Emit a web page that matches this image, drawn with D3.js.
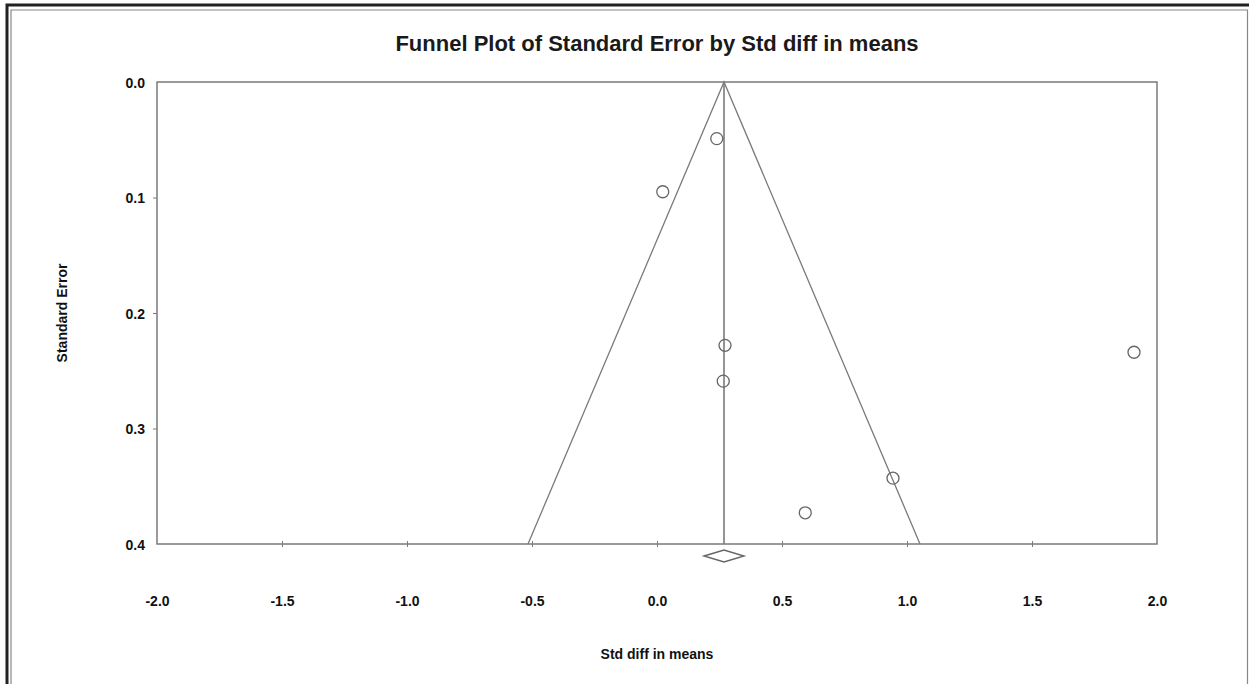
<!DOCTYPE html>
<html><head><meta charset="utf-8">
<script src="https://cdn.jsdelivr.net/npm/d3@7"></script>
<style>
html,body{margin:0;padding:0;background:#fff;}
svg{display:block;}
text{font-family:"Liberation Sans",Arial,sans-serif;fill:#111;}
</style></head>
<body>
<script>
// ---- data ----
const studyEffects = [0.239, 0.023, 0.272, 0.265, 0.593, 0.944, 1.908];
const studySE      = [0.049, 0.095, 0.228, 0.259, 0.373, 0.343, 0.234];
const pooledEffect = 0.268;
const pooledCI = [0.188, 0.348];
const xTicks = [-2.0, -1.5, -1.0, -0.5, 0.0, 0.5, 1.0, 1.5, 2.0];
const yTicks = [0.0, 0.1, 0.2, 0.3, 0.4];
const titleText = "Funnel Plot of Standard Error by Std diff in means";
const xLabel = "Std diff in means";
const yLabel = "Standard Error";

const W = 1249, H = 684;
const svg = d3.select("body").append("svg").attr("width", W).attr("height", H);

// outer frame
svg.append("rect").attr("x",7).attr("y",5).attr("width",W+10).attr("height",H+10)
  .attr("fill","none").attr("stroke","#222").attr("stroke-width",3);
svg.append("path").attr("d",`M11,${H+5} V10 H1247.5 V${H+5}`)
  .attr("fill","none").attr("stroke","#888").attr("stroke-width",1.2);

const x = d3.scaleLinear().domain([-2,2]).range([157,1157]);
const y = d3.scaleLinear().domain([0,0.4]).range([82,544]);
const grey = "#7a7a7a";
const fmt = d => d.toFixed(1);

// title
svg.append("text").attr("x",657).attr("y",51).attr("text-anchor","middle")
  .style("font-size","22px").style("font-weight","bold").style("fill","#1a1a1a")
  .text(titleText);

// plot box
const g = svg.append("g");
g.append("rect").attr("x",x(-2)).attr("y",y(0)).attr("width",x(2)-x(-2)).attr("height",y(0.4)-y(0))
  .attr("fill","none").attr("stroke",grey).attr("stroke-width",1.5);

// y axis ticks
const yAxis = d3.axisLeft(y).tickValues(yTicks).tickFormat(fmt).tickSize(4);
const ya = g.append("g").attr("transform",`translate(${x(-2)},0)`).call(yAxis);
ya.select(".domain").remove();
ya.selectAll(".tick line").attr("stroke",grey).attr("stroke-width",1);
ya.selectAll(".tick line").filter(d=>d===0||d===0.4).remove();
ya.selectAll("text").style("font-size","14px").style("font-weight","bold").attr("dy","0.36em").attr("x",-12);

// x axis ticks
const xAxis = d3.axisBottom(x).tickValues(xTicks).tickFormat(fmt).tickSize(0);
const xa = g.append("g").attr("transform",`translate(0,${y(0.4)})`).call(xAxis);
xa.select(".domain").remove();
xa.selectAll(".tick line").remove();
xa.selectAll(".tick").filter(d=>d>-2&&d<2).append("line")
  .attr("y1",-3).attr("y2",3).attr("stroke",grey).attr("stroke-width",1);
xa.selectAll("text").attr("y",62).attr("dy","0").style("font-size","14px").style("font-weight","bold");

// axis labels
svg.append("text").attr("x",657).attr("y",659).attr("text-anchor","middle")
  .style("font-size","14px").style("font-weight","bold").text(xLabel);
svg.append("text").attr("transform",`translate(67,${(y(0)+y(0.4))/2}) rotate(-90)`).attr("text-anchor","middle")
  .style("font-size","14px").style("font-weight","bold").text(yLabel);

// funnel
const seMax = 0.4;
const funnel = [[pooledEffect-1.96*seMax, seMax],[pooledEffect,0],[pooledEffect+1.96*seMax, seMax]];
g.append("path").attr("d", d3.line().x(d=>x(d[0])).y(d=>y(d[1]))(funnel))
  .attr("fill","none").attr("stroke",grey).attr("stroke-width",1.3);
g.append("line").attr("x1",x(pooledEffect)).attr("x2",x(pooledEffect)).attr("y1",y(0)).attr("y2",y(0.4))
  .attr("stroke",grey).attr("stroke-width",1.6);

// points
g.selectAll("circle.pt").data(studyEffects).join("circle").attr("class","pt")
  .attr("cx",d=>x(d)).attr("cy",(d,i)=>y(studySE[i])).attr("r",6)
  .attr("fill","none").attr("stroke","#666").attr("stroke-width",1.3);

// diamond
const dy0 = y(0.4)+12;
g.append("path").attr("d", d3.line()([[x(pooledCI[0]),dy0],[x(pooledEffect),dy0-6],[x(pooledCI[1]),dy0],[x(pooledEffect),dy0+6]])+"Z")
  .attr("fill","none").attr("stroke","#666").attr("stroke-width",1.4);
</script>
</body></html>
